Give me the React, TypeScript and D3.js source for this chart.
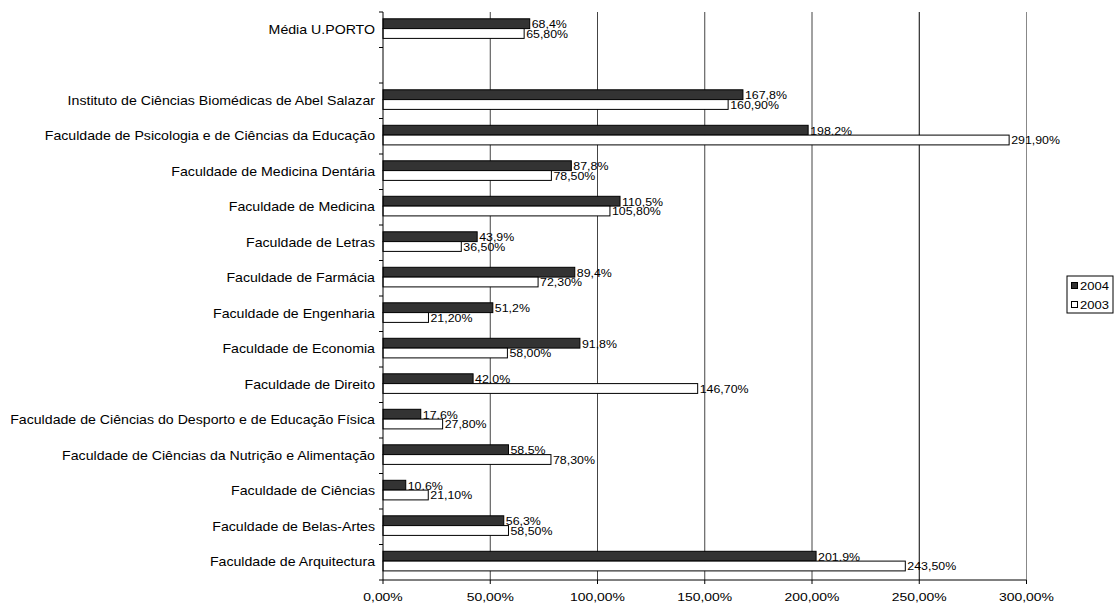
import * as d3 from 'd3'

const categories = [
  'Média U.PORTO',
  '',
  'Instituto de Ciências Biomédicas de Abel Salazar',
  'Faculdade de Psicologia e de Ciências da Educação',
  'Faculdade de Medicina Dentária',
  'Faculdade de Medicina',
  'Faculdade de Letras',
  'Faculdade de Farmácia',
  'Faculdade de Engenharia',
  'Faculdade de Economia',
  'Faculdade de Direito',
  'Faculdade de Ciências do Desporto e de Educação Física',
  'Faculdade de Ciências da Nutrição e Alimentação',
  'Faculdade de Ciências',
  'Faculdade de Belas-Artes',
  'Faculdade de Arquitectura',
]

const values2004: (number | null)[] = [
  68.4, null, 167.8, 198.2, 87.8, 110.5, 43.9, 89.4, 51.2, 91.8, 42.0, 17.6, 58.5, 10.6, 56.3, 201.9,
]
const values2003: (number | null)[] = [
  65.8, null, 160.9, 291.9, 78.5, 105.8, 36.5, 72.3, 21.2, 58.0, 146.7, 27.8, 78.3, 21.1, 58.5, 243.5,
]

const xTicks = [0, 50, 100, 150, 200, 250, 300]

const series = [
  { name: '2004', values: values2004, fill: '#333333', digits: 1 },
  { name: '2003', values: values2003, fill: '#ffffff', digits: 2 },
]

const W = 1116
const H = 607
const margin = { top: 12, right: 89.5, bottom: 27, left: 383 }
const font = '"Liberation Sans", Arial, Helvetica, sans-serif'
// the original text is drawn a bit wide
const SX = 1.18

const fmt = (v: number, digits: number) => v.toFixed(digits).replace('.', ',') + '%'

function WideText({ x, y, children, ...rest }: any) {
  return (
    <text transform={`translate(${x},${y}) scale(${SX},1)`} fill="#000" {...rest}>
      {children}
    </text>
  )
}

export default function App() {
  const x = d3.scaleLinear().domain([0, 300]).range([margin.left, W - margin.right])
  const y = d3
    .scaleBand<number>()
    .domain(categories.map((_, i) => i))
    .range([margin.top, H - margin.bottom])
  const bandH = y.bandwidth()
  const barH = 9.8
  const groupOffset = 6.8

  const bottom = H - margin.bottom
  const boundaries = d3.range(categories.length + 1).map(i => margin.top + i * bandH)

  const gridColor = (t: number) => (t === 250 ? '#000' : t === 300 ? '#888' : '#444')

  return (
    <svg
      width={W}
      height={H}
      style={{ position: 'absolute', left: 0, top: 0, background: '#fff' }}
      fontFamily={font}
    >
      {/* gridlines */}
      {xTicks.filter(t => t > 0).map(t => (
        <line
          key={'g' + t}
          x1={x(t)}
          x2={x(t)}
          y1={margin.top}
          y2={bottom}
          stroke={gridColor(t)}
          strokeWidth={1}
        />
      ))}

      {/* bars */}
      {categories.map((c, i) =>
        series.map((s, si) => {
          const v = s.values[i]
          if (v == null) return null
          const by = (y(i) as number) + groupOffset + si * barH
          return (
            <g key={c + s.name}>
              <rect
                x={x(0)}
                y={by}
                width={x(v) - x(0)}
                height={barH}
                fill={s.fill}
                stroke="#000"
                strokeWidth={1}
              />
              <WideText x={x(v) + 2} y={by + barH - 0.5} fontSize={10.5}>
                {fmt(v, s.digits)}
              </WideText>
            </g>
          )
        })
      )}

      {/* y axis */}
      <line x1={x(0)} x2={x(0)} y1={margin.top} y2={bottom} stroke="#000" />
      {boundaries.map((b, i) => (
        <line key={'yt' + i} x1={x(0) - 4} x2={x(0)} y1={b} y2={b} stroke="#000" />
      ))}
      {categories.map((c, i) => (
        <WideText
          key={'yl' + i}
          x={x(0) - 8}
          y={(y(i) as number) + bandH / 2}
          dy="0.35em"
          textAnchor="end"
          fontSize={12}
        >
          {c}
        </WideText>
      ))}

      {/* x axis */}
      <line x1={x(0)} x2={x(300)} y1={bottom} y2={bottom} stroke="#000" />
      {xTicks.map(t => (
        <g key={'xt' + t}>
          <line x1={x(t)} x2={x(t)} y1={bottom} y2={bottom + 4} stroke="#000" />
          <WideText x={x(t)} y={bottom + 21} textAnchor="middle" fontSize={11.8}>
            {t.toFixed(2).replace('.', ',') + '%'}
          </WideText>
        </g>
      ))}

      {/* legend */}
      <g transform="translate(1067,276)">
        <rect x={0} y={0} width={46} height={37} fill="#fff" stroke="#000" />
        {series.map((s, i) => (
          <g key={'lg' + s.name} transform={`translate(4.5,${5 + i * 19})`}>
            <rect x={0} y={1.5} width={6} height={6} fill={s.fill} stroke="#000" />
            <WideText x={8.5} y={8.5} fontSize={11}>
              {s.name}
            </WideText>
          </g>
        ))}
      </g>
    </svg>
  )
}
